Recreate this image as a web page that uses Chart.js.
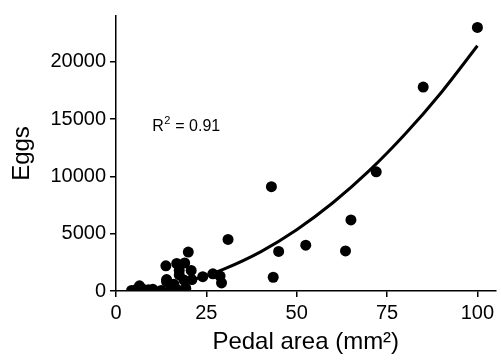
<!DOCTYPE html>
<html>
<head>
<meta charset="utf-8">
<script src="https://cdn.jsdelivr.net/npm/chart.js@4"></script>
<style>
  html, body { margin: 0; padding: 0; background: #fff; }
  #wrap { width: 501px; height: 361px; }
</style>
</head>
<body>
<div id="wrap"><canvas id="chart" width="501" height="361"></canvas></div>
<script>
// observed points (pedal area mm2, eggs)
var pedalArea = [100, 85, 72, 65, 63.5, 52.5, 43, 43.5, 45, 31,
    20, 13.8, 16.8, 19, 17.5, 20.8, 17.5, 14, 24, 26.8,
    28.8, 29.2, 19.3, 15.5, 15, 12.5, 10.2, 4.3, 5.5, 6.5,
    7.5, 9, 17, 19.3, 18.8, 14, 21, 16];
var eggs = [23000, 17800, 10400, 6200, 3500, 4000, 9100, 1200, 3450, 4500,
    3400, 2200, 2400, 2450, 1800, 1800, 1400, 1000, 1250, 1500,
    1300, 700, 250, 350, 50, 50, 150, 50, 100, 450,
    150, 100, 100, 50, 950, 800, 1000, 600];

// fitted curve
var fitX = [19, 25, 30, 40, 50, 60, 70, 80, 90, 100];
var fitY = [800, 1340, 1930, 3420, 5350, 7700, 10480, 13700, 17330, 21400];

var xTicks = [0, 25, 50, 75, 100];
var yTicks = [0, 5000, 10000, 15000, 20000];

var FONT = '"Liberation Sans", Arial, Helvetica, sans-serif';

function toXY(xs, ys) {
    return xs.map(function(x, i) { return { x: x, y: ys[i] }; });
}

var r2Label = {
    id: 'r2Label',
    afterDraw: function(chart) {
        var ctx = chart.ctx;
        var x = chart.scales.x.getPixelForValue(10);
        var y = chart.scales.y.getPixelForValue(14000);
        ctx.save();
        ctx.fillStyle = '#000';
        ctx.textBaseline = 'alphabetic';
        ctx.textAlign = 'left';
        ctx.font = '16px ' + FONT;
        ctx.fillText('R', x, y);
        var w = ctx.measureText('R').width;
        ctx.font = '11px ' + FONT;
        ctx.fillText('2', x + w + 0.5, y - 7);
        var w2 = ctx.measureText('2').width;
        ctx.font = '16px ' + FONT;
        ctx.fillText(' = 0.91', x + w + w2 + 1, y);
        ctx.restore();
    }
};

new Chart(document.getElementById('chart').getContext('2d'), {
    type: 'scatter',
    data: {
        datasets: [{
            type: 'line',
            data: toXY(fitX, fitY),
            borderColor: '#000',
            borderWidth: 3,
            pointRadius: 0,
            tension: 0.4,
            cubicInterpolationMode: 'monotone',
            fill: false,
            order: 2
        }, {
            data: toXY(pedalArea, eggs),
            backgroundColor: '#000',
            borderColor: '#000',
            pointRadius: 5.5,
            borderWidth: 0,
            order: 1
        }]
    },
    options: {
        responsive: false,
        animation: false,
        layout: { padding: { left: 8, right: 2, top: 12, bottom: 0 } },
        plugins: {
            legend: { display: false },
            tooltip: { enabled: false }
        },
        scales: {
            x: {
                type: 'linear',
                min: 0,
                max: 105,
                afterBuildTicks: function(axis) {
                    axis.ticks = xTicks.map(function(v) { return { value: v }; });
                },
                afterFit: function(axis) { axis.height = 70; },
                ticks: {
                    color: '#000', font: { family: FONT, size: 20 }, padding: 4, maxRotation: 0,
                    callback: function(v) { return String(v); }
                },
                grid: { drawOnChartArea: false, drawTicks: true, tickLength: 6, color: '#000', lineWidth: 1.5 },
                border: { display: true, color: '#000', width: 1.5 },
                title: {
                    display: true,
                    text: 'Pedal area (mm\u00b2)',
                    color: '#000',
                    font: { family: FONT, size: 24 },
                    padding: { top: 0, bottom: 4 }
                }
            },
            y: {
                type: 'linear',
                min: 0,
                max: 24000,
                afterBuildTicks: function(axis) {
                    axis.ticks = yTicks.map(function(v) { return { value: v }; });
                },
                afterFit: function(axis) { axis.width = 108; },
                ticks: {
                    color: '#000', font: { family: FONT, size: 20 }, padding: 4,
                    callback: function(v) { return String(v); }
                },
                grid: { drawOnChartArea: false, drawTicks: true, tickLength: 6, color: '#000', lineWidth: 1.5 },
                border: { display: true, color: '#000', width: 1.5 },
                title: {
                    display: true,
                    text: 'Eggs',
                    color: '#000',
                    font: { family: FONT, size: 24 },
                    padding: { top: 0, bottom: 0 }
                }
            }
        }
    },
    plugins: [r2Label]
});
</script>
</body>
</html>
